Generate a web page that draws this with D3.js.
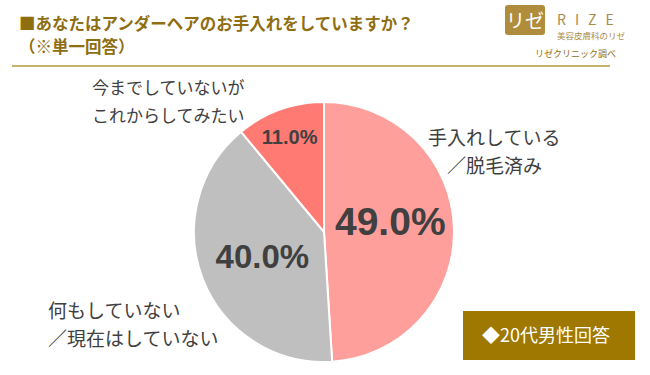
<!DOCTYPE html>
<html><head><meta charset="utf-8">
<script src="https://cdn.jsdelivr.net/npm/d3@7"></script>
<style>
body{margin:0;background:#fff;}
svg{display:block;font-family:"Noto Sans CJK JP","Noto Sans",sans-serif;}
</style></head>
<body>
<svg id="chart" width="650" height="375"></svg>
<script>
const categories = ["手入れしている／脱毛済み", "何もしていない／現在はしていない", "今までしていないがこれからしてみたい"];
const values = [49.0, 40.0, 11.0];
const valueLabels = ["49.0%", "40.0%", "11.0%"];
const outerLabels = [["手入れしている", "／脱毛済み"], ["何もしていない", "／現在はしていない"], ["今までしていないが", "これからしてみたい"]];
const colors = ["#FF9F9C", "#BFBFBF", "#FF7A73"];

const svg = d3.select("#chart");
const gold = "#8F6E12";

// Title
svg.append("text").attr("x", 19).attr("y", 30).attr("font-size", 16.5).attr("font-weight", "bold")
  .attr("fill", gold).text("■あなたはアンダーヘアのお手入れをしていますか？");
svg.append("text").attr("x", 19).attr("y", 53).attr("font-size", 16.5).attr("font-weight", "bold")
  .attr("fill", gold).text("（※単一回答）");

// Header line
svg.append("line").attr("x1", 12).attr("x2", 610).attr("y1", 66).attr("y2", 66)
  .attr("stroke", "#B8993A").attr("stroke-width", 1.5);

// Logo
svg.append("rect").attr("x", 505).attr("y", 5).attr("width", 40).attr("height", 30).attr("fill", "#B08D3C").attr("rx", 3);
svg.append("text").attr("x", 525).attr("y", 28).attr("text-anchor", "middle").attr("font-size", 19)
  .attr("fill", "#fff").text("リゼ");
svg.append("text").attr("x", 557).attr("y", 25).attr("font-size", 14).attr("letter-spacing", 9)
  .attr("fill", "#A88A4A").text("RIZE");
svg.append("text").attr("x", 557).attr("y", 39).attr("font-size", 8.5).attr("fill", "#A88A4A").text("美容皮膚科のリゼ");
svg.append("text").attr("x", 535).attr("y", 57).attr("font-size", 9).attr("fill", "#8F6E12").text("リゼクリニック調べ");

// Pie
const cx = 324, cy = 232, r = 130;
const pie = d3.pie().sort(null).value(d => d)(values);
const arc = d3.arc().innerRadius(0).outerRadius(r);
const g = svg.append("g").attr("transform", `translate(${cx},${cy})`);
g.selectAll("path").data(pie).join("path")
  .attr("d", arc).attr("fill", (d, i) => colors[i])
  .attr("stroke", "#fff").attr("stroke-width", 2);

// Value labels
const labelPos = [
  {r: 0.51, size: 39, dy: -8},
  {r: 0.51, size: 33, dy: 0},
  {r: 0.78, size: 20, dy: 0}
];
g.selectAll("text.val").data(pie).join("text").attr("class", "val")
  .attr("transform", (d, i) => {
    const a = (d.startAngle + d.endAngle) / 2;
    const rr = r * labelPos[i].r;
    return `translate(${Math.sin(a) * rr},${-Math.cos(a) * rr + labelPos[i].dy})`;
  })
  .attr("text-anchor", "middle").attr("dominant-baseline", "central")
  .attr("font-size", (d, i) => labelPos[i].size).attr("font-weight", "bold")
  .attr("font-family", "'Liberation Sans','Noto Sans',sans-serif")
  .attr("fill", "#404040").text((d, i) => valueLabels[i]);

// Outer labels
const outerPos = [
  [[428, 145, 19], [447, 173, 19]],
  [[48, 318, 19], [48, 346, 19]],
  [[92, 94, 17], [92, 122, 17]]
];
outerLabels.forEach((lines, i) => {
  lines.forEach((t, j) => {
    svg.append("text").attr("x", outerPos[i][j][0]).attr("y", outerPos[i][j][1])
      .attr("font-size", outerPos[i][j][2]).attr("fill", "#404040").text(t);
  });
});

// Box
svg.append("rect").attr("x", 463).attr("y", 311).attr("width", 172).attr("height", 49).attr("fill", "#9E7800");
svg.append("text").attr("x", 546).attr("y", 334).attr("text-anchor", "middle").attr("dominant-baseline", "central")
  .attr("font-size", 18).attr("fill", "#fff").text("◆20代男性回答");
</script>
</body></html>
